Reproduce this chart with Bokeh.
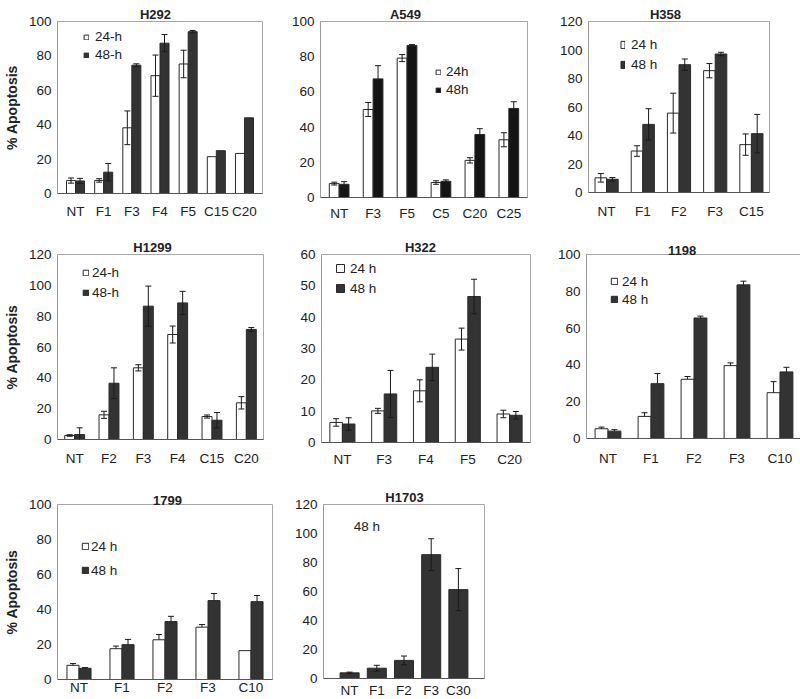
from bokeh.plotting import figure
from bokeh.models import (ColumnDataSource, FactorRange, Range1d, Whisker, TeeHead,
                          Label, Legend, LegendItem, FixedTicker)
from bokeh.layouts import row, column
from bokeh.transform import dodge
from bokeh.embed import file_html
from bokeh.resources import INLINE

FONT = "Liberation Sans"

# ---------------- data ----------------
h292_cats = ["NT", "F1", "F3", "F4", "F5", "C15", "C20"]
h292_24 = [7.5, 7.6, 38.2, 68.5, 75.3, 21.4, 23.3]
h292_24_err = [1.5, 1.0, 9.8, 12.0, 8.0, 0, 0]
h292_48 = [7.3, 12.4, 74.6, 87.4, 94.1, 24.9, 44.0]
h292_48_err = [1.5, 5.0, 0.8, 5.0, 0.7, 0, 0]

a549_cats = ["NT", "F3", "F5", "C5", "C20", "C25"]
a549_24 = [7.9, 50.0, 79.2, 8.5, 21.1, 32.8]
a549_24_err = [0.8, 4.0, 2.0, 1.0, 1.5, 4.0]
a549_48 = [7.5, 67.4, 86.4, 9.2, 35.8, 50.6]
a549_48_err = [1.5, 7.5, 0.5, 0.8, 3.3, 3.8]

h358_cats = ["NT", "F1", "F2", "F3", "C15"]
h358_24 = [10.3, 29.1, 55.7, 85.5, 33.6]
h358_24_err = [3.0, 3.7, 14.0, 5.0, 7.5]
h358_48 = [9.3, 47.8, 89.7, 97.2, 41.3]
h358_48_err = [1.2, 11.0, 4.0, 1.2, 13.5]

h1299_cats = ["NT", "F2", "F3", "F4", "C15", "C20"]
h1299_24 = [2.6, 16.0, 46.5, 68.1, 14.9, 23.8]
h1299_24_err = [0.5, 2.3, 2.0, 5.5, 1.0, 4.0]
h1299_48 = [3.2, 36.5, 86.5, 88.6, 12.5, 71.4]
h1299_48_err = [4.4, 10.0, 13.0, 7.5, 5.0, 1.2]

h322_cats = ["NT", "F3", "F4", "F5", "C20"]
h322_24 = [6.4, 10.1, 16.5, 33.0, 9.1]
h322_24_err = [1.2, 0.8, 3.5, 3.5, 1.2]
h322_48 = [5.9, 15.5, 24.0, 46.6, 8.7]
h322_48_err = [2.0, 7.5, 4.2, 5.5, 1.2]

c1198_cats = ["NT", "F1", "F2", "F3", "C10"]
c1198_24 = [5.3, 12.0, 32.2, 39.6, 24.9]
c1198_24_err = [0.9, 2.0, 1.5, 1.5, 6.0]
c1198_48 = [4.0, 29.8, 65.5, 83.5, 36.2]
c1198_48_err = [0.8, 5.5, 1.0, 2.0, 2.5]

c1799_cats = ["NT", "F1", "F2", "F3", "C10"]
c1799_24 = [8.1, 17.6, 22.7, 29.9, 16.5]
c1799_24_err = [1.0, 1.5, 3.0, 1.5, 0]
c1799_48 = [6.4, 19.9, 33.1, 45.1, 44.5]
c1799_48_err = [0.4, 3.0, 3.0, 4.0, 3.5]

h1703_cats = ["NT", "F1", "F2", "F3", "C30"]
h1703_48 = [3.9, 7.1, 12.5, 85.4, 61.3]
h1703_48_err = [0.5, 2.0, 3.0, 11.0, 14.5]

# ---------------- layout helpers ----------------
WHITE = "white"
DARK = "#333333"
BLACK = "#141414"
TITLE_PX = 13
BOLD_W = {"H": 0.722, "A": 0.722}


def title_width(s):
    return sum(BOLD_W.get(ch, 0.556) for ch in s) * TITLE_PX


def panel(title, cats, series, ymax, ystep, cell, frame, title_x, xpad,
          bar_frac, xl_standoff, ylabel=False, legend=None, upper_only=False,
          note=None):
    cx0, cy0, cx1, cy1 = cell
    l, t, r, b = frame
    fw = r - l
    fh = b - t
    p = figure(frame_width=fw, frame_height=fh,
               x_range=FactorRange(factors=cats, range_padding=xpad,
                                   range_padding_units="absolute"),
               y_range=Range1d(0, ymax),
               output_backend="svg", toolbar_location=None,
               min_border_left=l - cx0, min_border_right=cx1 - r,
               min_border_top=t - cy0, min_border_bottom=cy1 - b)
    p.xgrid.visible = False
    p.ygrid.visible = False
    p.outline_line_color = "#a8a8a8"
    p.outline_line_width = 1

    ns = len(series)
    offs = [0.0] if ns == 1 else [-bar_frac / 2, bar_frac / 2]
    rends = []
    for (vals, errs, fill, lbl), off in zip(series, offs):
        src = ColumnDataSource(dict(cat=cats, v=vals))
        rr = p.vbar(x=dodge("cat", off, range=p.x_range), top="v", width=bar_frac,
                    source=src, fill_color=fill, line_color="#2a2a2a", line_width=1)
        rends.append((rr, lbl))
        idx = [i for i, e in enumerate(errs) if e > 0]
        if idx:
            wsrc = ColumnDataSource(dict(
                cat=[cats[i] for i in idx],
                up=[vals[i] + errs[i] for i in idx],
                lo=[vals[i] if upper_only else vals[i] - errs[i] for i in idx]))
            wh = Whisker(base=dodge("cat", off, range=p.x_range), upper="up", lower="lo",
                         source=wsrc, dimension="height", line_color="#1a1a1a",
                         line_width=1, level="annotation",
                         upper_head=TeeHead(size=6, line_color="#1a1a1a", line_width=1),
                         lower_head=None if upper_only else
                         TeeHead(size=6, line_color="#1a1a1a", line_width=1))
            p.add_layout(wh)

    # axes
    p.yaxis.ticker = FixedTicker(ticks=list(range(0, ymax + 1, ystep)))
    for ax in (p.xaxis, p.yaxis):
        ax.major_tick_line_color = None
        ax.minor_tick_line_color = None
        ax.major_tick_out = 0
        ax.major_tick_in = 0
        ax.major_label_text_font = FONT
        ax.major_label_text_font_size = "13.5px"
        ax.major_label_text_color = "#222222"
    p.yaxis.axis_line_color = "#9a9a9a"
    p.xaxis.axis_line_color = "#555555"
    p.yaxis.major_label_standoff = 6
    p.xaxis.major_label_standoff = xl_standoff
    if ylabel:
        p.yaxis.axis_label = "% Apoptosis"
        p.yaxis.axis_label_text_font = FONT
        p.yaxis.axis_label_text_font_style = "bold"
        p.yaxis.axis_label_text_font_size = "14px"
        p.yaxis.axis_label_text_color = "#222222"
        p.yaxis.axis_label_standoff = 6

    # title
    p.title.text = title
    p.title.align = "left"
    p.title.offset = (title_x - title_width(title) / 2) - l
    p.title.vertical_align = "bottom"
    p.title.standoff = 0
    p.title.text_font = FONT
    p.title.text_font_style = "bold"
    p.title.text_font_size = "%dpx" % TITLE_PX
    p.title.text_color = "#222222"

    if legend is not None:
        gx, y2c, gw, gh, standoff, spacing, lh = legend
        leg = Legend(items=[LegendItem(label=lbl, renderers=[rr]) for rr, lbl in rends],
                     location=(gx - l, b - (y2c + lh / 2)),
                     glyph_width=gw, glyph_height=gh, label_standoff=standoff,
                     spacing=spacing, padding=0, margin=0, label_height=lh,
                     border_line_color=None, background_fill_alpha=0,
                     label_text_font=FONT, label_text_font_size="13.5px",
                     label_text_baseline="alphabetic",
                     label_text_color="#222222")
        p.add_layout(leg)

    if note is not None:
        txt, nx, ny = note
        p.add_layout(Label(x=-xpad / 2, y=ymax, x_offset=nx - l,
                           y_offset=-(ny - t), text=txt, text_align="left",
                           text_baseline="middle", text_font=FONT,
                           text_font_size="13.5px", text_color="#222222"))
    return p


R1 = (0, 227)
R2 = (227, 472)
R3 = (472, 699)

p1 = panel("H292", h292_cats,
           [(h292_24, h292_24_err, WHITE, "24-h"), (h292_48, h292_48_err, DARK, "48-h")],
           100, 20, (0, R1[0], 265, R1[1]), (54, 21, 259, 193), 152, 0.14, 0.32, 10,
           ylabel=True, legend=(80, 54.5, 6, 6, 6, 2, 16))
p2 = panel("A549", a549_cats,
           [(a549_24, a549_24_err, WHITE, "24h"), (a549_48, a549_48_err, BLACK, "48h")],
           100, 20, (265, R1[0], 530, R1[1]), (317, 21, 524, 197), 402, 0.05, 0.29, 8,
           legend=(432, 89.5, 6, 6, 5, 2, 16))
p3 = panel("H358", h358_cats,
           [(h358_24, h358_24_err, WHITE, "24 h"), (h358_48, h358_48_err, DARK, "48 h")],
           120, 20, (530, R1[0], 800, R1[1]), (585, 21, 766, 192), 662, 0.0, 0.32, 11,
           legend=(617, 64.5, 5, 9, 6, 4, 16))
p4 = panel("H1299", h1299_cats,
           [(h1299_24, h1299_24_err, WHITE, "24-h"), (h1299_48, h1299_48_err, DARK, "48-h")],
           120, 20, (0, R2[0], 265, R2[1]), (54, 253, 260, 438), 149, 0.0, 0.29, 11,
           ylabel=True, legend=(79, 291, 7, 7, 3, 4, 16))
p5 = panel("H322", h322_cats,
           [(h322_24, h322_24_err, WHITE, "24 h"), (h322_48, h322_48_err, DARK, "48 h")],
           60, 10, (265, R2[0], 530, R2[1]), (318, 254, 527, 442), 417, 0.0, 0.3, 9,
           legend=(332, 288, 10, 10, 5, 4, 16))
p6 = panel("1198", c1198_cats,
           [(c1198_24, c1198_24_err, WHITE, "24 h"), (c1198_48, c1198_48_err, DARK, "48 h")],
           100, 20, (530, R2[0], 800, R2[1]), (583, 253, 798, 437), 679, 0.0, 0.3, 12,
           legend=(607, 298, 8, 8, 4, 2, 16), upper_only=True)
p7 = panel("1799", c1799_cats,
           [(c1799_24, c1799_24_err, WHITE, "24 h"), (c1799_48, c1799_48_err, DARK, "48 h")],
           100, 20, (0, R3[0], 275, R3[1]), (53, 504, 268, 679), 163, 0.0, 0.28, 0,
           ylabel=True, legend=(77, 570, 8, 8, 2, 8, 16), upper_only=True)
p8 = panel("H1703", h1703_cats,
           [(h1703_48, h1703_48_err, DARK, "48 h")],
           120, 20, (275, R3[0], 530, R3[1]), (319, 501, 480, 675), 400, 0.46, 0.7, 4,
           note=("48 h", 343, 523))

layout = column(row(p1, p2, p3), row(p4, p5, p6), row(p7, p8))
open("out.html", "w").write(file_html(layout, INLINE))
